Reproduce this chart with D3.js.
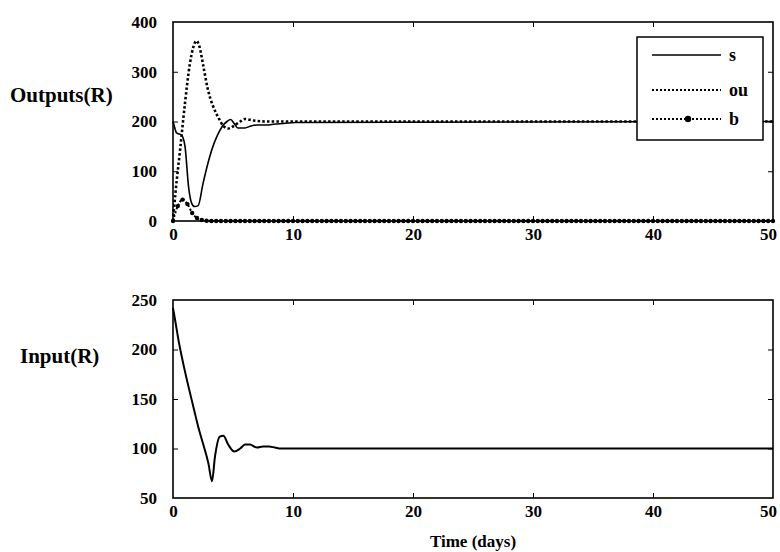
<!DOCTYPE html>
<html>
<head>
<meta charset="utf-8">
<script src="https://cdn.jsdelivr.net/npm/d3@7"></script>
<style>
  body { margin: 0; background: #fff; }
  text { font-family: "Liberation Serif", "Times New Roman", serif; font-weight: bold; fill: #000; }
</style>
</head>
<body>
<div id="chart"></div>
<script>
// Values
const xTicks = [0, 10, 20, 30, 40, 50];
const outTicks = [0, 100, 200, 300, 400];
const inTicks = [50, 100, 150, 200, 250];

const sTime = [0, 0.05, 0.3, 0.7, 1.0, 1.3, 1.55, 1.8, 2.1, 2.5, 2.9, 3.3, 3.7, 4.1, 4.5, 4.8, 5.1, 5.4, 6.0, 6.5, 7.0, 7.8, 8.5, 9.2, 10.2, 50];
const sVal  = [200, 196, 177, 173, 150, 68, 36, 29, 31, 75, 115, 148, 172, 190, 200, 204, 196, 187, 187, 191, 193, 193, 195, 196, 198, 200];

const ouTime = [0, 0.2, 0.6, 1.0, 1.4, 1.7, 1.95, 2.2, 2.5, 2.9, 3.35, 3.8, 4.2, 4.6, 5.0, 5.6, 6.0, 6.7, 7.8, 50];
const ouVal  = [0, 55, 145, 237, 315, 350, 362, 351, 315, 265, 230, 207, 191, 186, 190, 200, 205, 202, 200, 200];

const bTime = d3.range(0, 50.001, 0.4);
const bVal = [
  0, 30, 43, 34, 16, 6, 2, 0.5, 0, 0, 0, 0, 0, 0, 0, 0, 0, 0, 0, 0,
  0, 0, 0, 0, 0, 0, 0, 0, 0, 0, 0, 0, 0, 0, 0, 0, 0, 0, 0, 0,
  0, 0, 0, 0, 0, 0, 0, 0, 0, 0, 0, 0, 0, 0, 0, 0, 0, 0, 0, 0,
  0, 0, 0, 0, 0, 0, 0, 0, 0, 0, 0, 0, 0, 0, 0, 0, 0, 0, 0, 0,
  0, 0, 0, 0, 0, 0, 0, 0, 0, 0, 0, 0, 0, 0, 0, 0, 0, 0, 0, 0,
  0, 0, 0, 0, 0, 0, 0, 0, 0, 0, 0, 0, 0, 0, 0, 0, 0, 0, 0, 0,
  0, 0, 0, 0, 0, 0
];

const inTime = [0, 0.2, 0.45, 0.85, 1.3, 1.7, 2.1, 2.5, 2.95, 3.25, 3.5, 3.9, 4.2, 4.6, 5.1, 5.6, 6.0, 6.4, 7.0, 7.5, 8.0, 8.5, 9.0, 50];
const inVal  = [242, 228, 210, 186, 162, 142, 122, 105, 85, 67, 92, 112, 113, 104, 97, 100, 104, 104, 101, 102, 102, 101, 100, 100];

const outSeries = [
  {name: "s",  time: sTime,  val: sVal},
  {name: "ou", time: ouTime, val: ouVal},
  {name: "b",  time: bTime,  val: bVal}
];

// Layout
const W = 780, H = 552;
const left = 173, right = 773;
const top1 = 22, bot1 = 221;
const top2 = 300, bot2 = 498;

const svg = d3.select("#chart").append("svg")
  .attr("width", W).attr("height", H);

const x = d3.scaleLinear().domain([0, 50]).range([left, right]);
const y1 = d3.scaleLinear().domain([0, 400]).range([bot1, top1]);
const y2 = d3.scaleLinear().domain([50, 250]).range([bot2, top2]);

function frame(y, yTicks, topY, botY) {
  const inner = xTicks.slice(1, -1);
  const innerY = yTicks.slice(1, -1);
  // inward ticks on all four sides
  svg.append("g").attr("transform", `translate(0,${botY})`)
    .call(d3.axisBottom(x).tickValues(inner).tickSize(-5).tickFormat(""));
  svg.append("g").attr("transform", `translate(0,${topY})`)
    .call(d3.axisTop(x).tickValues(inner).tickSize(-5).tickFormat(""));
  svg.append("g").attr("transform", `translate(${left},0)`)
    .call(d3.axisLeft(y).tickValues(innerY).tickSize(-5).tickFormat(""));
  svg.append("g").attr("transform", `translate(${right},0)`)
    .call(d3.axisRight(y).tickValues(innerY).tickSize(-5).tickFormat(""));
  svg.selectAll(".domain").remove();
  svg.selectAll(".tick line").attr("stroke", "#000").attr("stroke-width", 1);

  // tick labels
  const gx = svg.append("g").attr("transform", `translate(0,${botY})`)
    .call(d3.axisBottom(x).tickValues(xTicks).tickSize(0).tickPadding(7));
  const gy = svg.append("g").attr("transform", `translate(${left},0)`)
    .call(d3.axisLeft(y).tickValues(yTicks).tickSize(0).tickPadding(16).tickFormat(d3.format("d")));
  [gx, gy].forEach(g => {
    g.select(".domain").remove();
    g.selectAll("text")
      .style("font-family", '"Liberation Serif", serif')
      .style("font-weight", "bold")
      .style("font-size", "17px")
      .attr("fill", "#000");
  });
  // last x label sits a little inside the page edge
  gx.selectAll("text").filter(d => d === 50).attr("dx", -5);

  svg.append("rect")
    .attr("x", left).attr("y", topY)
    .attr("width", right - left).attr("height", botY - topY)
    .attr("fill", "none").attr("stroke", "#000").attr("stroke-width", 1.6);
}

frame(y1, outTicks, top1, bot1);
frame(y2, inTicks, top2, bot2);

// Top panel lines
const line1 = (s) => d3.line()
  .x((d, i) => x(s.time[i]))
  .y(d => y1(d))
  .curve(d3.curveMonotoneX)(s.val);

const bS = outSeries[2], ouS = outSeries[1], sS = outSeries[0];

svg.append("path")
  .attr("d", line1(bS))
  .attr("fill", "none").attr("stroke", "#000")
  .attr("stroke-width", 2).attr("stroke-dasharray", "2 2");

svg.append("g").selectAll("circle")
  .data(bS.val)
  .join("circle")
    .attr("cx", (d, i) => x(bS.time[i]))
    .attr("cy", d => y1(d))
    .attr("r", 2.2)
    .attr("fill", "#000");

svg.append("path")
  .attr("d", line1(ouS))
  .attr("fill", "none").attr("stroke", "#000")
  .attr("stroke-width", 2.6).attr("stroke-dasharray", "2.5 2.2");

svg.append("path")
  .attr("d", line1(sS))
  .attr("fill", "none").attr("stroke", "#000")
  .attr("stroke-width", 1.6);

// Bottom panel line
svg.append("path")
  .datum(inVal)
  .attr("d", d3.line()
    .x((d, i) => x(inTime[i]))
    .y(d => y2(d))
    .curve(d3.curveMonotoneX))
  .attr("fill", "none").attr("stroke", "#000")
  .attr("stroke-width", 2);

// Legend
const lg = svg.append("g");
lg.append("rect")
  .attr("x", 637).attr("y", 37).attr("width", 126).attr("height", 103)
  .attr("fill", "#fff").attr("stroke", "#000").attr("stroke-width", 1.5);
const legendY = [55, 90, 119];
outSeries.forEach((s, i) => {
  const ly = legendY[i];
  const l = lg.append("line")
    .attr("x1", 652).attr("x2", 721).attr("y1", ly).attr("y2", ly)
    .attr("stroke", "#000");
  if (s.name === "s") l.attr("stroke-width", 1.6);
  else l.attr("stroke-width", 2).attr("stroke-dasharray", "2 2");
  if (s.name === "b") lg.append("circle").attr("cx", 688).attr("cy", ly).attr("r", 3.2).attr("fill", "#000");
  lg.append("text")
    .attr("x", 729).attr("y", ly + 6)
    .style("font-size", "18px")
    .text(s.name);
});

// Axis titles
svg.append("text").attr("x", 10).attr("y", 102).style("font-size", "21px").text("Outputs(R)");
svg.append("text").attr("x", 20).attr("y", 363).style("font-size", "21px").text("Input(R)");
svg.append("text").attr("x", (left + right) / 2).attr("y", 547)
  .attr("text-anchor", "middle").style("font-size", "17px").text("Time (days)");
</script>
</body>
</html>
